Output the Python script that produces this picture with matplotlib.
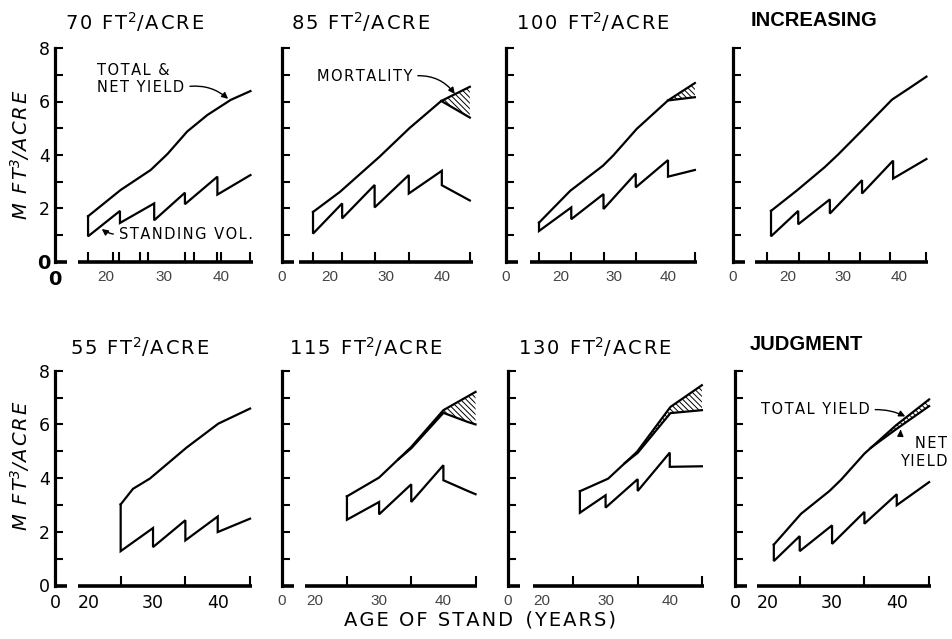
import matplotlib.pyplot as plt

plt.rcParams['hatch.linewidth'] = 0.7
plt.rcParams['mathtext.default'] = 'regular'

W, H = 952, 639

# yield curves read per basal-area regime, volume in M ft3/acre
age_70 = [17, 22.6, 27.8, 30.7, 34.1, 37.6, 41.6, 45]
total_70 = [1.71, 2.69, 3.44, 4.04, 4.88, 5.50, 6.06, 6.39]
st_age_70 = [17, 22.5, 22.5, 28.4, 28.4, 33.7, 33.7, 39.3, 39.3, 45]
st_70 = [0.96, 1.91, 1.46, 2.19, 1.56, 2.59, 2.16, 3.19, 2.52, 3.25]

age_85 = [17, 21.8, 28.9, 34.2, 39.9, 45]
total_85 = [1.87, 2.62, 3.94, 5.00, 6.02, 6.55]
net_age_85 = [39.9, 45]
net_85 = [6.02, 5.40]
st_age_85 = [17, 22.2, 22.2, 28, 28, 34.1, 34.1, 40, 40, 45]
st_85 = [1.06, 2.19, 1.63, 2.88, 2.04, 3.25, 2.56, 3.41, 2.87, 2.30]

age_100 = [16, 21.8, 27.9, 29.8, 34.2, 40, 45]
total_100 = [1.47, 2.66, 3.60, 3.98, 4.98, 6.04, 6.69]
net_age_100 = [40, 45]
net_100 = [6.04, 6.16]
st_age_100 = [16, 22, 22, 28, 28, 34, 34, 40, 40, 45]
st_100 = [1.16, 2.04, 1.60, 2.54, 1.98, 3.31, 2.79, 3.81, 3.19, 3.44]

age_inc = [17, 21.7, 26.7, 29.1, 33.4, 38.8, 42, 45]
total_inc = [1.91, 2.68, 3.55, 4.02, 4.92, 6.07, 6.51, 6.93]
st_age_inc = [17, 21.9, 21.9, 27.6, 27.6, 33.4, 33.4, 39, 39, 45]
st_inc = [0.96, 1.91, 1.41, 2.34, 1.81, 3.06, 2.56, 3.79, 3.12, 3.85]

age_55 = [25, 26.9, 29.5, 35.2, 40.1, 45]
total_55 = [3.02, 3.60, 3.98, 5.14, 6.03, 6.59]
st_age_55 = [25, 30, 30, 35, 35, 40, 40, 45]
st_55 = [1.28, 2.14, 1.43, 2.43, 1.68, 2.57, 1.99, 2.49]

age_115 = [25, 30, 35, 40, 45]
total_115 = [3.32, 4.02, 5.16, 6.53, 7.21]
net_age_115 = [33, 35, 40, 43.8, 45]
net_115 = [4.70, 5.11, 6.43, 6.09, 6.00]
st_age_115 = [25, 30, 30, 35, 35, 40, 40, 43.8, 45]
st_115 = [2.45, 3.11, 2.65, 3.77, 3.11, 4.48, 3.92, 3.52, 3.40]

age_130 = [26, 30.4, 34.9, 40.1, 45]
total_130 = [3.51, 3.98, 4.98, 6.65, 7.46]
net_age_130 = [33, 35, 40.1, 45]
net_130 = [4.56, 4.94, 6.42, 6.53]
st_age_130 = [26, 30, 30, 35, 35, 40, 40, 45]
st_130 = [2.71, 3.36, 2.90, 3.96, 3.52, 4.95, 4.42, 4.44]

age_jdg = [21, 25.2, 29.6, 31.4, 35, 39.9, 45]
total_jdg = [1.52, 2.67, 3.52, 3.94, 4.91, 5.97, 6.93]
net_age_jdg = [36, 39.9, 45]
net_jdg = [5.13, 5.82, 6.68]
st_age_jdg = [21, 25, 25, 30, 30, 35, 35, 40, 40, 45]
st_jdg = [0.91, 1.84, 1.28, 2.24, 1.55, 2.74, 2.30, 3.40, 2.99, 3.85]

titles = ['70 FT$^2$/ACRE', '85 FT$^2$/ACRE', '100 FT$^2$/ACRE', 'INCREASING',
          '55 FT$^2$/ACRE', '115 FT$^2$/ACRE', '130 FT$^2$/ACRE', 'JUDGMENT']
x_labels = ['0', '20', '30', '40']
y_labels = ['0', '2', '4', '6', '8']

panels = [
    (age_70, total_70, None, None, st_age_70, st_70),
    (age_85, total_85, net_age_85, net_85, st_age_85, st_85),
    (age_100, total_100, net_age_100, net_100, st_age_100, st_100),
    (age_inc, total_inc, None, None, st_age_inc, st_inc),
    (age_55, total_55, None, None, st_age_55, st_55),
    (age_115, total_115, net_age_115, net_115, st_age_115, st_115),
    (age_130, total_130, net_age_130, net_130, st_age_130, st_130),
    (age_jdg, total_jdg, net_age_jdg, net_jdg, st_age_jdg, st_jdg),
]

# left px, bottom px, x range, px per year, start of long axis bar
layout = [
    (55, 262, (11.3, 45.4), 5.8, 15.3),
    (282, 262, (11.46, 45.6), 5.6, 14.5),
    (506, 262, (9.86, 45.4), 5.375, 14.3),
    (733, 262, (10.15, 45.3), 5.55, 14.1),
    (55, 585.5, (14.85, 45.3), 6.47, 18.4),
    (282, 585.5, (14.9, 45.3), 6.43, 18.5),
    (508, 585.5, (14.8, 45.3), 6.42, 18.7),
    (735, 585.5, (15.0, 45.3), 6.47, 18.4),
]
tick_years = [
    [17, 21.3, 22.3, 26, 27.4, 33.7, 35.2, 39.2, 39.9, 45],
    [17, 22.2, 28, 34.1, 40, 45],
    [16, 22, 28, 34, 40, 45],
    [16.3, 22, 27.5, 33, 38.5, 45],
    [20, 25, 30, 35, 40, 45],
    [20, 25, 30, 35, 40, 45],
    [20, 25, 30, 35, 40, 45],
    [20, 25, 30, 35, 40, 45],
]
label_style = ['narrow', 'narrow', 'narrow', 'narrow', 'sans', 'narrow', 'narrow', 'sans']
title_x = [135, 361, 593, 814, 140, 366, 595, 806]
title_y = [22, 22, 22, 21, 347, 347, 347, 345]

NARROW = ['Liberation Sans Narrow', 'Liberation Sans']
GAP = '\u200a'


def spaced(s):
    # open up the lettering with hair spaces, leaving $...$ parts alone
    parts = s.split('$')
    for k in range(0, len(parts), 2):
        parts[k] = GAP.join(parts[k])
    return '$'.join(parts)


fig = plt.figure(figsize=(W / 100, H / 100), dpi=100)
axes = []
for i, (left, bottom, (x0, x1), ppy, bar_start) in enumerate(layout):
    width = (x1 - x0) * ppy
    height = 214 if bottom < 300 else 214.8
    ax = fig.add_axes([left / W, 1 - bottom / H, width / W, height / H])
    axes.append(ax)
    ages, total, net_age, net, st_age, st = panels[i]

    ax.set_xlim(x0, x1)
    ax.set_ylim(0, 8)
    for side in ['top', 'right', 'bottom']:
        ax.spines[side].set_visible(False)
    ax.spines['left'].set_linewidth(2.3)

    # broken x axis: short stub at the origin, long bar for the ages
    stub = 12 / ppy
    ax.plot([x0, x0 + stub], [0, 0], color='k', lw=2.6, clip_on=False,
            solid_capstyle='butt')
    ax.plot([bar_start, x1], [0, 0], color='k', lw=2.6, clip_on=False,
            solid_capstyle='butt')

    ax.plot(ages, total, color='k', lw=1.6, solid_joinstyle='miter')
    ax.plot([ages[0]] + st_age, [total[0]] + st, color='k', lw=1.6,
            solid_joinstyle='miter')

    if net_age is not None:
        upper = [(a, t) for a, t in zip(ages, total) if a > net_age[0]]
        px = [net_age[0]] + [a for a, _ in upper] + net_age[::-1]
        py = [net[0]] + [t for _, t in upper] + net[::-1]
        ax.fill(px, py, facecolor='none', edgecolor='k', hatch='\\\\\\\\\\\\', lw=0)
        ax.plot(net_age, net, color='k', lw=1.6)

    ax.set_yticks(range(0, 9, 2))
    ax.set_yticks(range(1, 9, 2), minor=True)
    ax.tick_params(axis='y', which='both', direction='in', length=6, width=1.5)
    if i % 4 == 0:
        ax.set_yticklabels(y_labels, fontsize=12.5)
    else:
        ax.tick_params(axis='y', labelleft=False)

    ax.set_xticks([x0, 20, 30, 40])
    ax.set_xticks(tick_years[i], minor=True)
    ax.tick_params(axis='x', which='major', length=0, pad=6)
    ax.tick_params(axis='x', which='minor', direction='in', length=7, width=1.5)
    if label_style[i] == 'narrow':
        ax.set_xticklabels(x_labels, fontsize=11, family=NARROW, color='#444444')
    else:
        ax.set_xticklabels(x_labels, fontsize=12.5)

    if titles[i] in ('INCREASING', 'JUDGMENT'):
        fig.text(title_x[i] / W, 1 - title_y[i] / H, titles[i], ha='center',
                 va='center', fontsize=14.5, fontweight='bold', family='Liberation Sans')
    else:
        fig.text(title_x[i] / W, 1 - title_y[i] / H, spaced(titles[i]), ha='center',
                 va='center', fontsize=14)

# the 70 ft2 panel carries heavy zeros on both axes
for lab in (axes[0].get_xticklabels()[0], axes[0].get_yticklabels()[0]):
    lab.set_fontweight('bold')
    lab.set_fontsize(14)
    lab.set_family('DejaVu Sans')
    lab.set_color('k')

arrow = dict(arrowstyle='-|>', color='k', lw=1.0, mutation_scale=9)
note = dict(fontsize=10.5, linespacing=1.2)
axes[0].annotate(spaced('TOTAL &') + '\n' + spaced('NET YIELD'), xy=(41.5, 6.03),
                 xytext=(18.6, 7.45), ha='left', va='top', **note,
                 arrowprops=dict(arrow, relpos=(1, 0.25),
                                 connectionstyle='arc3,rad=-0.25'))
axes[0].annotate(spaced('STANDING VOL.'), xy=(19.0, 1.3), xytext=(22.3, 1.03),
                 ha='left', va='center', **note,
                 arrowprops=dict(arrow, relpos=(0, 0.5),
                                 connectionstyle='arc3,rad=-0.2'))
axes[1].annotate(spaced('MORTALITY'), xy=(42.6, 6.2), xytext=(17.7, 6.95),
                 ha='left', va='center', **note,
                 arrowprops=dict(arrow, relpos=(1, 0.5),
                                 connectionstyle='arc3,rad=-0.3'))
axes[7].annotate(spaced('TOTAL YIELD'), xy=(41.7, 6.25), xytext=(19.0, 6.54),
                 ha='left', va='center', **note,
                 arrowprops=dict(arrow, relpos=(1, 0.5),
                                 connectionstyle='arc3,rad=-0.15'))
axes[7].annotate(spaced('NET') + '\n' + spaced('YIELD'), xy=(40.6, 5.8),
                 xytext=(44.1, 5.55), ha='center', va='top', multialignment='right',
                 annotation_clip=False, **note,
                 arrowprops=dict(arrow, relpos=(0.2, 0.85),
                                 connectionstyle='arc3,rad=-0.4'))

for yc in (155, 466):
    fig.text(20 / W, 1 - yc / H, spaced('M FT') + '$^3$' + spaced('/ACRE'),
             rotation=90, ha='center', va='center', fontsize=14, fontstyle='italic')
fig.text(480 / W, 1 - 620 / H, spaced('AGE OF STAND') + '  ' + spaced('(YEARS)'),
         ha='center', va='center', fontsize=14)

fig.savefig('out.png', dpi=100)
